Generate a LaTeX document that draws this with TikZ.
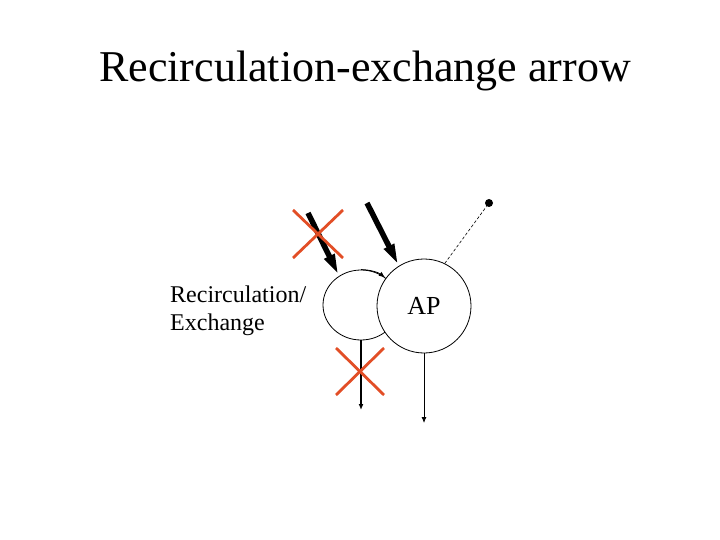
\documentclass[tikz,border=0pt]{standalone}
\usepackage{fontspec}
\setmainfont{Liberation Serif}
\usetikzlibrary{arrows.meta,shapes.geometric}
\definecolor{xred}{RGB}{226,78,38}
\begin{document}
\begin{tikzpicture}[x=1pt,y=-1pt,
  cell/.style={draw=black,line width=0.8pt,inner sep=0pt},
  thickarrow/.style={line width=5.5pt,-{Triangle[length=22pt,width=10pt]}},
  thinarrow/.style={line width=0.8pt,-{Latex[length=6pt,width=5pt]}},
  cross/.style={draw=xred,line width=2.8pt},
  lbl/.style={font=\fontsize{24}{28}\selectfont,align=left,anchor=north west,inner sep=0pt}]
\useasboundingbox (0,0) rectangle (720,540);
\node[font=\fontsize{44}{52}\selectfont] (title) at (365,71) {Recirculation-exchange arrow};
\node[lbl] (label) at (170,286) {Recirculation/\\Exchange};
\node[cell,ellipse,minimum width=76pt,minimum height=70pt] (rc) at (361,305) {};
\node[cell,circle,minimum size=94pt,fill=white,font=\fontsize{26}{30}\selectfont] (ap) at (424,306) {AP};
\coordinate (s1) at (308,213);
\coordinate (s2) at (367,203);
\node[circle,fill=black,inner sep=0pt,minimum size=8pt] (dot) at (489,203) {};
\coordinate (e1) at (361,410);
\coordinate (e2) at (424,423);
\draw[thickarrow] (s1) -- (rc.127);
\draw[thickarrow] (s2) -- (ap.122);
\draw[thinarrow] (rc.north) arc[start angle=90,end angle=51,x radius=38pt,y radius=35pt];
\draw[line width=0.6pt,dash pattern=on 3pt off 2pt] (ap.64) -- (dot);
\draw[thinarrow,line width=1.3pt] (rc.south) -- (e1);
\draw[thinarrow] (ap.south) -- (e2);
\draw[cross] (293,210) -- (343,258) (343,210) -- (293,258);
\draw[cross] (336,348) -- (384,395) (384,348) -- (336,395);
\end{tikzpicture}
\end{document}
